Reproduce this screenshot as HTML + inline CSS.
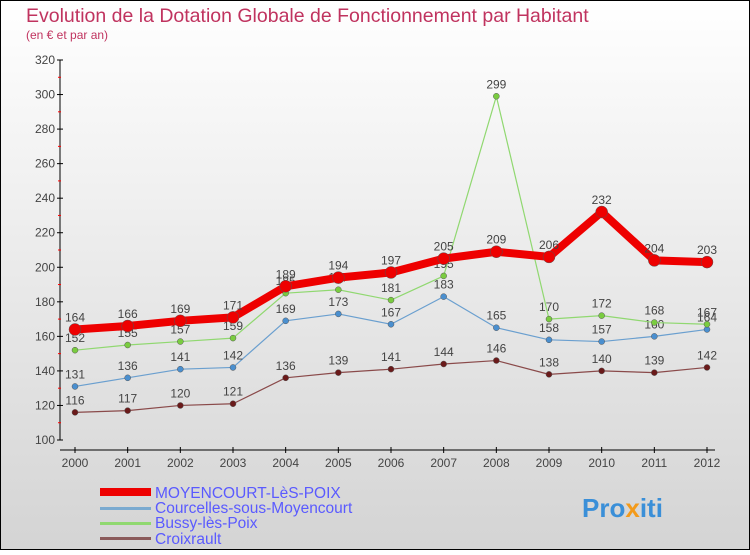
<!DOCTYPE html>
<html><head><meta charset="utf-8"><style>
body{margin:0}
#c{width:750px;height:550px;position:relative;font-family:"Liberation Sans",sans-serif}
</style></head><body>
<div id="c">
<svg id="s" width="750" height="550" xmlns="http://www.w3.org/2000/svg" font-family="Liberation Sans, sans-serif">
<defs><linearGradient id="bg" x1="0" y1="0" x2="0" y2="1"><stop offset="0" stop-color="#ffffff"/><stop offset="1" stop-color="#d4d4d4"/></linearGradient></defs>
<rect x="0.5" y="0.5" width="749" height="549" fill="url(#bg)" stroke="#000"/>
<text x="26" y="22" font-size="19.5" fill="#c0335f">Evolution de la Dotation Globale de Fonctionnement par Habitant</text>
<text x="26" y="39" font-size="12" fill="#c0335f">(en € et par an)</text>
<g id="grid"></g><g id="axes"></g><g id="series"></g>
<g>
<rect x="100" y="488" width="51" height="8" fill="#e00"/>
<text x="155" y="498" font-size="15.5" fill="#5a5aff">MOYENCOURT-LèS-POIX</text>
<rect x="100" y="507" width="51" height="3" fill="#7aaad0"/>
<text x="155" y="513" font-size="15.5" fill="#5a5aff">Courcelles-sous-Moyencourt</text>
<rect x="100" y="522" width="51" height="3" fill="#90d870"/>
<text x="155" y="528" font-size="15.5" fill="#5a5aff">Bussy-lès-Poix</text>
<rect x="100" y="537" width="51" height="3" fill="#8a5a5a"/>
<text x="155" y="544" font-size="15.5" fill="#5a5aff">Croixrault</text>
</g>
<text x="582" y="517" font-size="26" font-weight="bold" fill="#3a8fd8">Pro<tspan fill="#f39a1a">x</tspan>iti</text>
</svg></div>
<script>
const years=[2000,2001,2002,2003,2004,2005,2006,2007,2008,2009,2010,2011,2012];
const moyencourt=[164,166,169,171,189,194,197,205,209,206,232,204,203];
const courcelles=[131,136,141,142,169,173,167,183,165,158,157,160,164];
const bussy=[152,155,157,159,185,187,181,195,299,170,172,168,167];
const croixrault=[116,117,120,121,136,139,141,144,146,138,140,139,142];
const yTicks=[100,120,140,160,180,200,220,240,260,280,300,320];
const NS="http://www.w3.org/2000/svg";
const x=i=>75+i*(632/12);
const y=v=>440-(v-100)*(380/220);
function mk(t,a,p){const e=document.createElementNS(NS,t);for(const k in a)e.setAttribute(k,a[k]);p.appendChild(e);return e;}
const axes=document.getElementById('axes'),ser=document.getElementById('series');
let ya=mk('line',{x1:60,y1:60,x2:60,y2:440,stroke:'#000'},axes);


let xa=mk('line',{x1:60,y1:450,x2:715,y2:450,stroke:'#000'},axes);


yTicks.forEach(v=>{
 mk('line',{x1:57,x2:63,y1:y(v),y2:y(v),stroke:'#000'},axes);
 if(v<320)mk('line',{x1:58,x2:61,y1:y(v+10),y2:y(v+10),stroke:'#f00'},axes);
 const t=mk('text',{x:55,y:y(v)+4,'font-size':12,'text-anchor':'end',fill:'#444'},axes);t.textContent=v;
 
 
});
years.forEach((yr,i)=>{
 mk('line',{x1:x(i),x2:x(i),y1:447,y2:453,stroke:'#000'},axes);
 const t=mk('text',{x:x(i),y:467,'font-size':12,'text-anchor':'middle',fill:'#444'},axes);t.textContent=yr;
 
 
});
function draw(d,col,w,r,name,dot){
 const pl=mk('polyline',{points:d.map((v,i)=>x(i)+','+y(v)).join(' '),fill:'none',stroke:col,'stroke-width':w,'stroke-linejoin':'round'},ser);
 
 
 d.forEach((v,i)=>{
  const c=mk('circle',{cx:x(i),cy:y(v),r:r,fill:dot,stroke:'#555','stroke-width':0.5},ser);
  
  
  const t=mk('text',{x:x(i),y:y(v)-8,'font-size':12,'text-anchor':'middle',fill:'#444'},ser);t.textContent=v;
  
  
 });
}
draw(croixrault,'#8a4a4a',1.2,3,'croixrault','#6a1a1a');
draw(courcelles,'#6a9fcf',1.2,3,'courcelles','#4a8fcf');
draw(bussy,'#90d870',1.2,3,'bussy','#7acc40');
draw(moyencourt,'#e00',8,6,'moyencourt','#e00');
</script>
</body></html>
